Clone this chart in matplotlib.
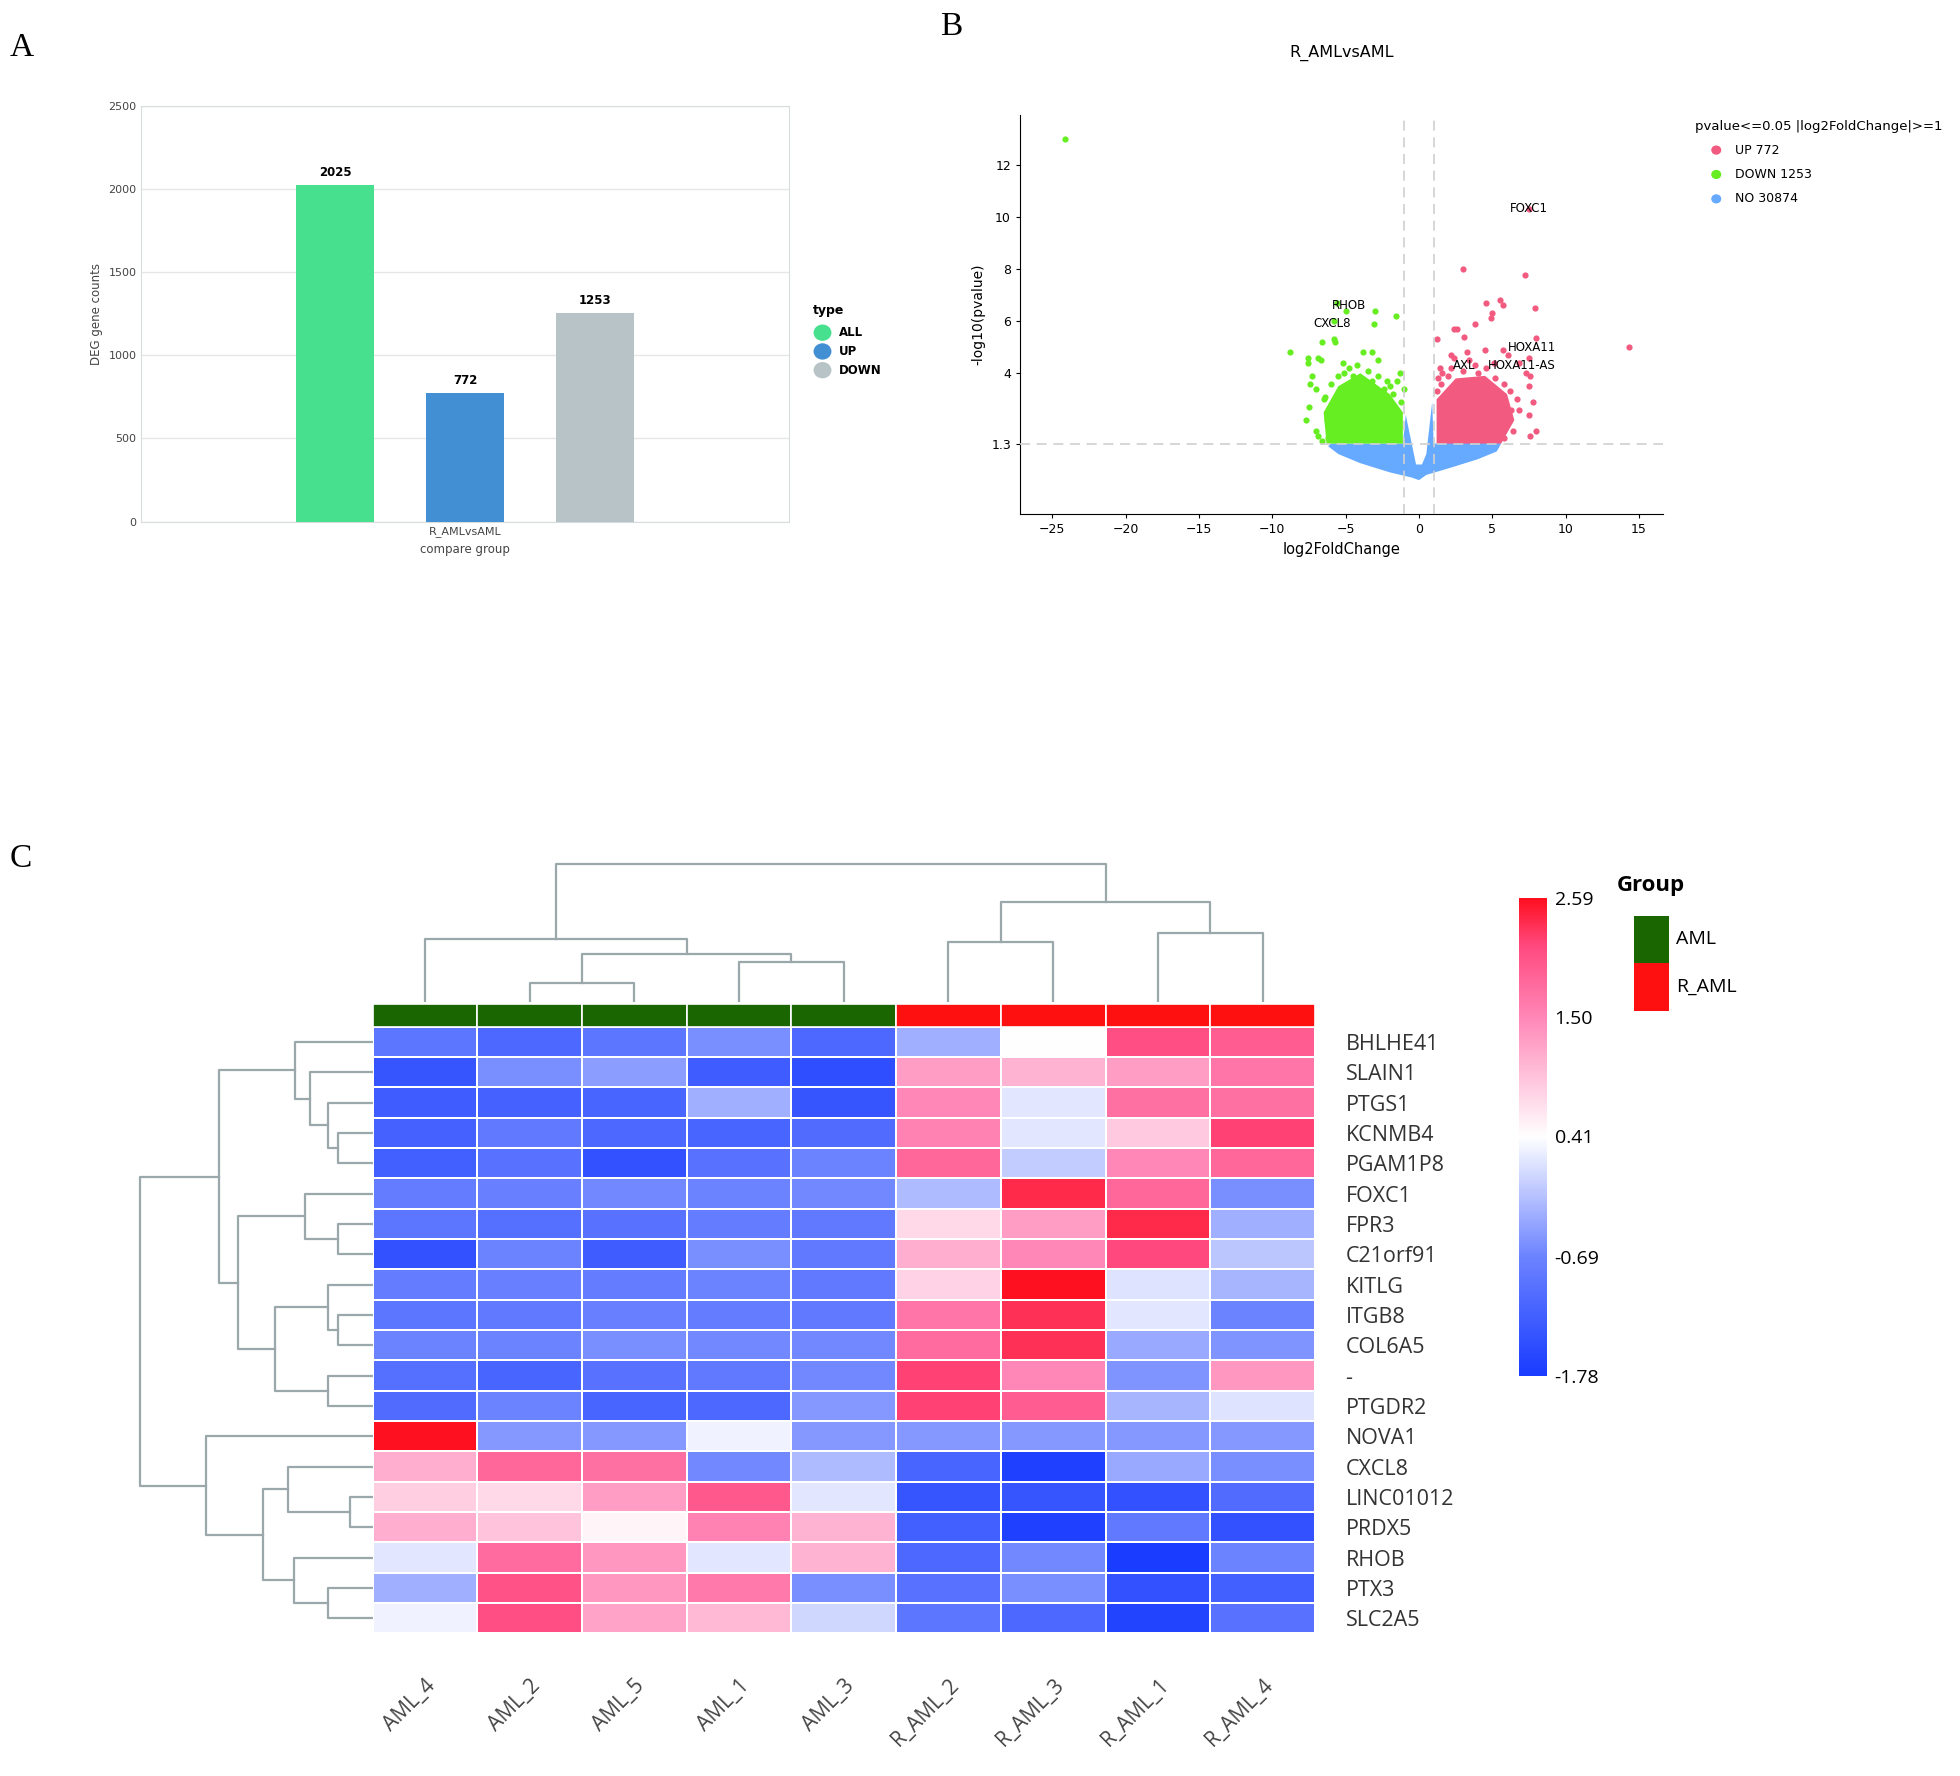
import numpy as np
import matplotlib
matplotlib.use('Agg')
import matplotlib.pyplot as plt
from matplotlib.colors import LinearSegmentedColormap, Normalize
from matplotlib.patches import Polygon, Rectangle

# ---------------- data ----------------
# panel A
bar_types = ['ALL', 'UP', 'DOWN']
bar_counts = [2025, 772, 1253]
bar_colors = ['#47e08f', '#428fd3', '#b7c3c6']

# panel B  (volcano, hand read points)
green_x = [-24.1, -8.8, -7.6, -7.6, -6.9, -6.7, -6.6, -5.8, -5.7, -5.0, -5.6, -3.0, -1.6, -3.1, -5.8,
           -3.8, -3.2, -2.8, -1.3, -1.5, -1.0, -7.3, -7.4, -7.0, -7.5, -7.7, -7.0, -6.9, -6.6, -6.2,
           -6.5, -2.4, -2.0, -3.2, -4.5, -5.1,
           -6.0, -5.5, -6.3, -6.1, -4.8, -3.5, -2.8, -1.8, -1.2, -1.4, -6.4, -4.2, -5.2, -2.2]
green_y = [13.0, 4.8, 4.6, 4.4, 4.6, 4.5, 5.2, 5.3, 5.2, 6.4, 6.7, 6.4, 6.2, 5.9, 6.0,
           4.8, 4.8, 4.5, 4.0, 3.7, 3.4, 3.9, 3.6, 3.4, 2.7, 2.2, 1.8, 1.6, 1.4, 1.5,
           3.0, 3.4, 3.5, 3.7, 3.9, 4.0,
           3.6, 3.9, 2.2, 1.8, 4.2, 4.1, 3.9, 3.2, 2.9, 2.2, 3.1, 4.3, 4.4, 3.7]
green_core_x = [-6.3, -1.1, -1.1, -2.0, -4.0, -5.5, -6.5]
green_core_y = [1.3, 1.3, 2.5, 3.2, 4.0, 3.5, 2.5]
red_x = [7.5, 3.0, 7.2, 5.5, 5.7, 4.6, 7.9, 5.0, 4.9, 3.8, 2.4, 2.6, 3.1, 1.2, 8.0, 14.3, 5.7, 4.5, 7.5,
         6.1, 3.3, 2.2, 2.4, 6.8, 1.4, 7.3, 7.6, 7.5, 7.8, 7.5, 8.0, 7.6, 6.7, 6.3, 2.0, 3.0, 4.0, 5.2,
         1.2, 1.5,
         1.3, 2.2, 3.8, 4.6, 5.8, 6.2, 6.8, 6.4, 5.8, 1.6, 5.1, 3.4]
red_y = [10.3, 8.0, 7.75, 6.8, 6.6, 6.7, 6.5, 6.3, 6.1, 5.9, 5.7, 5.7, 5.4, 5.3, 5.35, 5.0, 4.9, 4.9, 4.6,
         4.7, 4.8, 4.7, 4.6, 4.4, 4.2, 4.0, 3.9, 3.5, 2.9, 2.4, 1.8, 1.6, 3.0, 2.6, 3.9, 4.1, 4.0, 3.8,
         3.3, 3.6,
         3.8, 4.2, 4.3, 4.2, 3.6, 3.3, 2.6, 1.8, 1.5, 4.0, 4.4, 4.5]
red_core_x = [1.2, 5.6, 6.5, 6.0, 4.5, 2.5, 1.2]
red_core_y = [1.3, 1.3, 2.2, 3.2, 3.9, 3.8, 3.0]
blue_x = [-6.2, -5.5, -4.0, -2.0, -0.5, 0.0, 0.5, 2.0, 4.0, 5.3, 5.6, 4.8, 1.0, 0.9, 0.5, 0.2, -0.2,
          -0.9, -1.1, -6.0]
blue_y = [1.2, 0.9, 0.55, 0.2, 0.0, -0.1, 0.1, 0.35, 0.7, 1.0, 1.3, 1.4, 1.3, 2.9, 0.9, 0.5, 0.5,
          2.4, 1.3, 1.3]
volcano_labels = ['FOXC1', 'RHOB', 'CXCL8', 'HOXA11', 'AXL', 'HOXA11-AS']
volcano_label_x = [7.5, -4.8, -5.9, 7.7, 3.1, 7.0]
volcano_label_y = [10.3, 6.6, 5.9, 5.0, 4.3, 4.3]

# panel C (heatmap)
genes = ['BHLHE41', 'SLAIN1', 'PTGS1', 'KCNMB4', 'PGAM1P8', 'FOXC1', 'FPR3', 'C21orf91', 'KITLG',
         'ITGB8', 'COL6A5', '-', 'PTGDR2', 'NOVA1', 'CXCL8', 'LINC01012', 'PRDX5', 'RHOB', 'PTX3',
         'SLC2A5']
samples = ['AML_4', 'AML_2', 'AML_5', 'AML_1', 'AML_3', 'R_AML_2', 'R_AML_3', 'R_AML_1', 'R_AML_4']
groups = ['AML'] * 5 + ['R_AML'] * 4
zscores = np.array([
    [-0.9, -1.1, -0.9, -0.6, -1.1, -0.3, 0.41, 2.1, 1.95],
    [-1.4, -0.6, -0.45, -1.3, -1.5, 1.3, 1.1, 1.3, 1.7],
    [-1.3, -1.2, -1.15, -0.3, -1.4, 1.5, 0.2, 1.75, 1.75],
    [-1.2, -0.85, -1.1, -1.15, -1.05, 1.55, 0.2, 0.9, 2.2],
    [-1.25, -0.95, -1.45, -0.95, -0.7, 1.85, -0.05, 1.5, 1.85],
    [-0.8, -0.75, -0.65, -0.7, -0.65, -0.2, 2.4, 1.85, -0.6],
    [-0.9, -1.0, -0.95, -0.8, -0.85, 0.75, 1.3, 2.4, -0.3],
    [-1.45, -0.7, -1.3, -0.6, -0.85, 1.15, 1.5, 2.15, -0.1],
    [-0.8, -0.75, -0.8, -0.7, -0.85, 0.8, 2.59, 0.15, -0.25],
    [-0.9, -0.85, -0.75, -0.8, -0.85, 1.7, 2.35, 0.2, -0.7],
    [-0.7, -0.7, -0.6, -0.65, -0.65, 1.8, 2.35, -0.35, -0.55],
    [-1.0, -1.15, -0.95, -0.85, -0.65, 2.2, 1.5, -0.55, 1.35],
    [-1.05, -0.7, -1.15, -1.1, -0.5, 2.2, 1.95, -0.25, 0.15],
    [2.59, -0.5, -0.5, 0.3, -0.5, -0.5, -0.5, -0.5, -0.5],
    [1.15, 1.85, 1.75, -0.65, -0.2, -1.15, -1.7, -0.35, -0.6],
    [0.85, 0.75, 1.3, 2.0, 0.2, -1.4, -1.4, -1.45, -1.05],
    [1.15, 0.95, 0.5, 1.55, 1.1, -1.25, -1.7, -0.85, -1.45],
    [0.2, 1.8, 1.35, 0.2, 1.1, -1.1, -0.65, -1.78, -0.7],
    [-0.3, 2.05, 1.35, 1.65, -0.6, -0.95, -0.6, -1.45, -1.25],
    [0.3, 2.1, 1.25, 1.05, 0.05, -0.9, -1.1, -1.65, -0.95],
])
cbar_ticks = [2.59, 1.50, 0.41, -0.69, -1.78]
# dendrogram merges: (left, right, height)
col_merges = [(1, 2, 15), (3, 4, 32), (9, 10, 38), (0, 11, 50), (5, 6, 48), (7, 8, 55),
              (13, 14, 80), (12, 15, 110)]
row_merges = [(3, 4, 28), (2, 20, 36), (1, 21, 50), (0, 22, 62), (6, 7, 28), (5, 24, 54),
              (9, 10, 28), (8, 26, 36), (11, 12, 36), (27, 28, 78), (25, 29, 108), (23, 30, 123),
              (15, 16, 18), (14, 32, 68), (18, 19, 36), (17, 34, 63), (33, 35, 88), (13, 36, 133),
              (31, 37, 186)]

# ---------------- figure ----------------
W, H = 1568.0, 1420.0
fig = plt.figure(figsize=(19.6, 17.76), dpi=100)
narrow = ['Liberation Sans Narrow', 'DejaVu Sans']
hmfont = ['Open Sans', 'DejaVu Sans']


def box(x0, y0, x1, y1):
    return fig.add_axes([x0 / W, 1 - y1 / H, (x1 - x0) / W, (y1 - y0) / H])


def ftext(x, y, s, **kw):
    fig.text(x / W, 1 - y / H, s, **kw)


for lab, x, y in [('A', 8, 45), ('B', 752, 28), ('C', 8, 693)]:
    ftext(x, y, lab, fontsize=24, family='Liberation Serif')

# ---- panel A ----
axA = box(113, 85, 631, 417)
xs = np.arange(1, 4)
axA.bar(xs, bar_counts, width=0.6, color=bar_colors, zorder=3)
for x, c in zip(xs, bar_counts):
    axA.text(x, c + 40, str(c), ha='center', va='bottom', fontsize=8.5, fontweight='bold')
axA.set_xlim(-0.49, 4.49)
axA.set_ylim(0, 2500)
axA.set_yticks(range(0, 2501, 500))
axA.tick_params(labelsize=8, colors='#444444', length=0)
axA.set_xticks([2])
axA.set_xticklabels(['R_AMLvsAML'])
axA.grid(axis='y', color='#e6e6e6', lw=1, zorder=0)
for s in axA.spines.values():
    s.set_color('#d8dcdc')
axA.set_xlabel('compare group', fontsize=8.5, color='#444444')
axA.set_ylabel('DEG gene counts', fontsize=8.5, color='#444444')
ftext(650, 248, 'type', fontsize=9, fontweight='bold', va='center')
for i, (t, c) in enumerate(zip(bar_types, bar_colors)):
    fig.patches.append(plt.Circle(((658) / W, 1 - (266 + 15 * i) / H), 0.0042, color=c,
                                  transform=fig.transFigure, figure=fig))
    ftext(671, 266 + 15 * i, t, fontsize=8.5, fontweight='bold', va='center')

# ---- panel B ----
axB = box(816, 92, 1330, 411)
axB.add_patch(Polygon(np.column_stack([blue_x, blue_y]), closed=True, color='#66aaff', lw=0, zorder=2))
axB.add_patch(Polygon(np.column_stack([green_core_x, green_core_y]), closed=True, color='#66ee22', lw=0,
                      zorder=3))
axB.add_patch(Polygon(np.column_stack([red_core_x, red_core_y]), closed=True, color='#f25a80', lw=0,
                      zorder=3))
axB.scatter(green_x, green_y, s=20, color='#66ee22', zorder=4, lw=0)
axB.scatter(red_x, red_y, s=20, color='#f25a80', zorder=4, lw=0)
for v in (-1, 1):
    axB.axvline(v, color='#d0d0d0', ls=(0, (6, 4)), lw=1.2, zorder=5)
axB.axhline(1.3, color='#d0d0d0', ls=(0, (6, 4)), lw=1.2, zorder=5)
for s, x, y in zip(volcano_labels, volcano_label_x, volcano_label_y):
    axB.text(x, y, s, ha='center', va='center', fontsize=8.5, family=narrow, zorder=6)
axB.set_xlim(-27.2, 16.6)
axB.set_ylim(-1.4, 13.9)
axB.set_xticks([-25, -20, -15, -10, -5, 0, 5, 10, 15])
axB.set_yticks([1.3, 4, 6, 8, 10, 12])
axB.set_yticklabels(['1.3', '4', '6', '8', '10', '12'])
axB.tick_params(labelsize=9, length=3)
for lab in axB.get_xticklabels() + axB.get_yticklabels():
    lab.set_family(narrow)
axB.spines['top'].set_visible(False)
axB.spines['right'].set_visible(False)
axB.set_xlabel('log2FoldChange', fontsize=10.5, family=narrow)
axB.set_ylabel('-log10(pvalue)', fontsize=10)
axB.set_title('R_AMLvsAML', fontsize=11.5, family=narrow, pad=42)
ftext(1356, 101, 'pvalue<=0.05 |log2FoldChange|>=1', fontsize=9.5, family=narrow, va='center')
for i, (t, c) in enumerate(zip(['UP 772', 'DOWN 1253', 'NO 30874'], ['#f25a80', '#66ee22', '#66aaff'])):
    fig.patches.append(plt.Circle((1373 / W, 1 - (120 + 19.5 * i) / H), 0.0022, color=c,
                                  transform=fig.transFigure, figure=fig))
    ftext(1388, 120 + 19.5 * i, t, fontsize=9, family=narrow, va='center')

# ---- panel C ----
cmap = LinearSegmentedColormap.from_list('hm', [(0, '#1a3cff'), (0.25, '#6d84ff'), (0.5, '#ffffff'),
                                                (0.75, '#ff88b8'), (0.9, '#ff4a80'),
                                                (1, '#ff1020')])
norm = Normalize(-1.78, 2.59)
dcol = '#9aa8ac'


def draw_dendro(ax, leaf_pos, merges, horizontal):
    pos = {i: (p, 0.0) for i, p in enumerate(leaf_pos)}
    n = len(leaf_pos)
    for k, (a, b, h) in enumerate(merges):
        (pa, ha), (pb, hb) = pos[a], pos[b]
        ps = [pa, pa, pb, pb]
        hs = [ha, h, h, hb]
        if horizontal:
            ax.plot(hs, ps, color=dcol, lw=1.6)
        else:
            ax.plot(ps, hs, color=dcol, lw=1.6)
        pos[n + k] = ((pa + pb) / 2, h)


axCol = box(298, 685, 1052, 801)
draw_dendro(axCol, np.arange(len(samples)) + 0.5, col_merges, False)
axCol.set_xlim(0, len(samples))
axCol.set_ylim(0, 116)
axCol.axis('off')

axRow = box(105, 821, 298, 1306)
draw_dendro(axRow, np.arange(len(genes)) + 0.5, row_merges, True)
axRow.set_ylim(len(genes), 0)
axRow.set_xlim(193, 0)
axRow.axis('off')

axG = box(298, 803, 1052, 821)
gcol = {'AML': '#1a6600', 'R_AML': '#ff1010'}
for j, g in enumerate(groups):
    axG.add_patch(Rectangle((j, 0), 1, 1, facecolor=gcol[g], edgecolor='white', lw=1.2))
axG.set_xlim(0, len(samples))
axG.set_ylim(0, 1)
axG.axis('off')

axH = box(298, 821, 1052, 1306)
axH.pcolormesh(zscores, cmap=cmap, norm=norm, edgecolors='white', linewidth=1.2)
axH.set_xlim(0, len(samples))
axH.set_ylim(len(genes), 0)
axH.set_xticks(np.arange(len(samples)) + 0.5)
axH.set_xticklabels(samples, rotation=45, ha='right', va='top', fontsize=15, color='#444444',
                    rotation_mode='anchor', family=hmfont)
axH.yaxis.tick_right()
axH.set_yticks(np.arange(len(genes)) + 0.5)
axH.set_yticklabels(genes, fontsize=15.5, color='#333333', family=hmfont)
axH.tick_params(length=0, pad=22)
axH.tick_params(axis='x', pad=30)
for s in axH.spines.values():
    s.set_visible(False)

axCb = box(1215, 718, 1237, 1100)
grad = np.linspace(-1.78, 2.59, 256).reshape(-1, 1)
axCb.imshow(grad, cmap=cmap, norm=norm, aspect='auto', origin='lower', extent=(0, 1, -1.78, 2.59))
axCb.set_xticks([])
axCb.yaxis.tick_right()
axCb.set_yticks(cbar_ticks)
axCb.set_yticklabels(['%.2f' % t for t in cbar_ticks], family=hmfont)
axCb.tick_params(length=0, labelsize=14, pad=6)
for s in axCb.spines.values():
    s.set_visible(False)

ftext(1293, 708, 'Group', fontsize=16, fontweight='bold', va='center', family=hmfont)
for i, g in enumerate(['AML', 'R_AML']):
    fig.patches.append(Rectangle((1307 / W, 1 - (770 + 38 * i) / H), 28 / W, 38 / H,
                                 facecolor=gcol[g], transform=fig.transFigure, figure=fig))
    ftext(1341, 751 + 38 * i, g, fontsize=14, va='center', family=hmfont)

fig.savefig('out.png', dpi=100)
